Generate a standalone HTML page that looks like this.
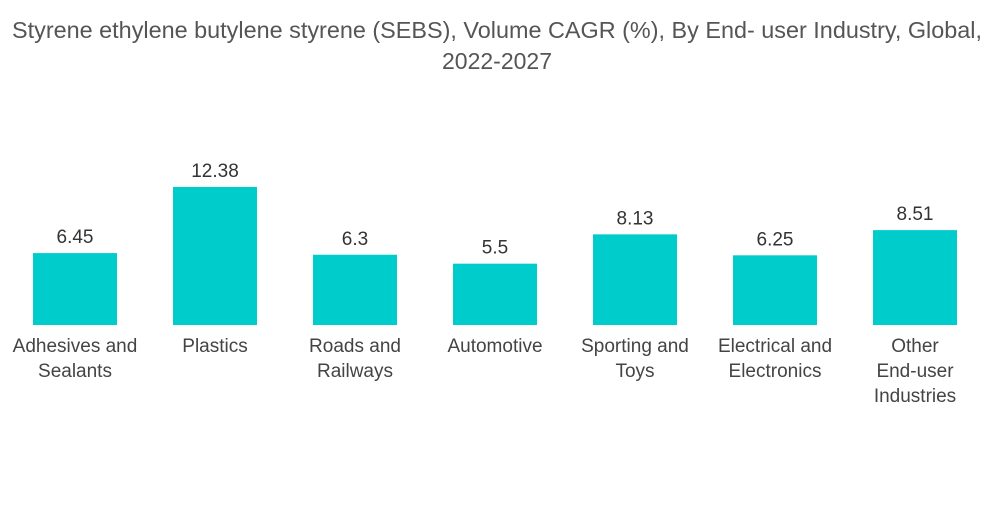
<!DOCTYPE html>
<html><head><meta charset="utf-8"><style>
body{margin:0;background:#fff;width:1000px;height:504px;overflow:hidden;font-family:"Liberation Sans",sans-serif}
</style></head><body>
<svg width="1000" height="504">
<text x="497" y="38" text-anchor="middle" font-size="23" fill="#555" textLength="970" lengthAdjust="spacingAndGlyphs">Styrene ethylene butylene styrene (SEBS), Volume CAGR (%), By End- user Industry, Global,</text>
<text x="497" y="69" text-anchor="middle" font-size="23" fill="#555">2022-2027</text>
<g id="bars"></g>
</svg>
<script>
const categories=[["Adhesives and","Sealants"],["Plastics"],["Roads and","Railways"],["Automotive"],["Sporting and","Toys"],["Electrical and","Electronics"],["Other","End-user","Industries"]];
const values=[6.45,12.38,6.3,5.5,8.13,6.25,8.51];
const labels=["6.45","12.38","6.3","5.5","8.13","6.25","8.51"];
const base=325,scale=11.15,step=140,x0=75,bw=84;
const yS=v=>base-v*scale, xS=i=>x0+i*step;
const g=document.getElementById('bars'),ns="http://www.w3.org/2000/svg";
values.forEach((v,i)=>{
const r=document.createElementNS(ns,'rect');
r.setAttribute('x',xS(i)-bw/2);r.setAttribute('y',yS(v));r.setAttribute('width',bw);r.setAttribute('height',base-yS(v));r.setAttribute('fill','#00cccc');


g.appendChild(r);
const t=document.createElementNS(ns,'text');
t.setAttribute('x',xS(i));t.setAttribute('y',yS(v)-10);t.setAttribute('text-anchor','middle');t.setAttribute('font-size','19');t.setAttribute('fill','#333');t.textContent=labels[i];


g.appendChild(t);
categories[i].forEach((line,j)=>{
const c=document.createElementNS(ns,'text');
c.setAttribute('x',xS(i));c.setAttribute('y',352+j*25);c.setAttribute('text-anchor','middle');c.setAttribute('font-size','19');c.setAttribute('fill','#444');c.textContent=line;


g.appendChild(c);
});
});
</script>
</body></html>
